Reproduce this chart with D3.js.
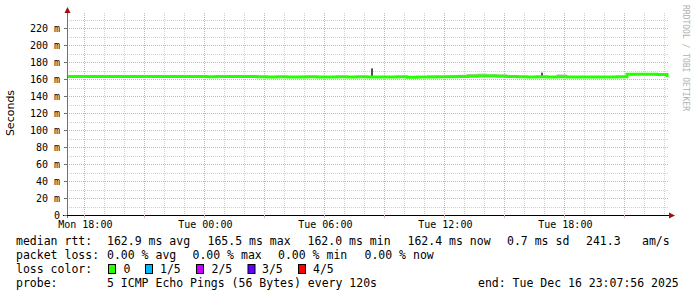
<!DOCTYPE html>
<html>
<head>
<meta charset="utf-8">
<script src="https://cdn.jsdelivr.net/npm/d3@7"></script>
<style>
  body { margin: 0; background: #fff; }
  svg { display: block; }
  text { font-family: "DejaVu Sans Mono", monospace; fill: #000; }
</style>
</head>
<body>
<svg id="chart"></svg>
<script>
// 30 h window, one bucket per 30 min
const startTime = new Date(2025, 11, 15, 17, 7, 56);
const endTime = new Date(2025, 11, 16, 23, 7, 56);

// median rtt per bucket (ms)
const medianRtt = [
  163.1, 163.1, 163.0, 163.1, 163.0, 163.0, 163.1, 163.0, 163.0, 163.0,
  163.0, 163.0, 163.0, 163.0, 162.8, 163.0, 163.0, 163.0, 163.0, 162.6,
  162.4, 162.6, 162.3, 162.5, 162.7, 162.4, 162.5, 162.6, 162.4, 162.8,
  162.5, 162.3, 162.4, 162.6, 162.2, 162.5, 162.4, 162.6, 162.8, 163.0,
  163.4, 163.6, 163.5, 163.3, 163.0, 162.6, 162.5, 162.8, 162.4, 162.6,
  162.5, 162.3, 162.4, 162.5, 162.4, 162.6, 165.5, 165.5, 165.5, 165.4
];
// highest ping per bucket (ms) -> top of the smoke
const smokeMax = [
  163.6, 163.5, 163.4, 163.5, 163.4, 163.5, 163.6, 163.4, 163.4, 163.5,
  163.4, 163.6, 163.4, 163.4, 163.3, 163.5, 163.4, 163.4, 163.5, 163.3,
  163.3, 163.4, 163.2, 163.9, 163.5, 163.3, 163.4, 163.5, 163.3, 163.6,
  163.3, 163.2, 163.4, 163.5, 163.2, 163.4, 164.3, 163.6, 164.5, 165.0,
  166.0, 166.4, 165.8, 165.5, 164.6, 163.7, 163.5, 163.6, 163.3, 165.5,
  163.5, 163.2, 163.4, 163.4, 163.3, 163.5, 166.2, 166.0, 166.1, 166.0
];
// single outlier pings
const spikeTimes = [new Date(2025, 11, 16, 8, 20, 0), new Date(2025, 11, 16, 16, 50, 0)];
const spikeValues = [172.5, 167.5];

const lossLabels = ['0', '1/5', '2/5', '3/5', '4/5'];
const lossColors = ['#26ff00', '#00b8ff', '#c800ff', '#6000ff', '#ff0000'];
const yTicks = d3.range(0, 240, 10);

const width = 697, height = 297;
const svg = d3.select('#chart').attr('width', width).attr('height', height);

const x = d3.scaleTime().domain([startTime, endTime]).range([67, 667]);
const y = d3.scaleLinear().domain([0, 236.5]).range([215, 14]);

const step = 30 * 60 * 1000;
const points = medianRtt.map((v, i) => ({
  t: new Date(+startTime + i * step),
  v: v,
  hi: smokeMax[i]
}));
points.push({ t: endTime, v: 162.4, hi: 162.9 });

const grid = svg.append('g');
// horizontal grid
grid.selectAll('.hgrid')
  .data(yTicks.filter(v => v > 0))
  .enter().append('line')
  .attr('x1', 67).attr('x2', 668)
  .attr('y1', d => Math.round(y(d)) + 0.5)
  .attr('y2', d => Math.round(y(d)) + 0.5)
  .attr('stroke', d => d % 20 === 0 ? '#e8a8a8' : '#d0d0d0')
  .attr('stroke-dasharray', '1,1');

// vertical grid, hourly, major every 3 h
const hours = d3.timeHour.every(1).range(startTime, endTime);
grid.selectAll('.vgrid')
  .data(hours)
  .enter().append('line')
  .attr('x1', d => Math.round(x(d)) + 0.5)
  .attr('x2', d => Math.round(x(d)) + 0.5)
  .attr('y1', 13).attr('y2', 215)
  .attr('stroke', d => d.getHours() % 3 === 0 ? '#e8a8a8' : '#d0d0d0')
  .attr('stroke-dasharray', '1,1');

// smoke
svg.append('g').selectAll('rect')
  .data(medianRtt.map((v, i) => points[i]))
  .enter().append('rect')
  .attr('x', d => x(d.t))
  .attr('width', d => x(new Date(+d.t + step)) - x(d.t))
  .attr('y', d => y(d.hi))
  .attr('height', d => y(d.v) - y(d.hi))
  .attr('fill', '#c4c4c4');

// outlier pings
svg.append('g').selectAll('rect')
  .data(spikeTimes)
  .enter().append('rect')
  .attr('x', d => Math.round(x(d)))
  .attr('width', 2)
  .attr('y', (d, i) => y(spikeValues[i]))
  .attr('height', (d, i) => y(163) - y(spikeValues[i]))
  .attr('fill', '#505050');

// median line
svg.append('path')
  .datum(points)
  .attr('fill', 'none')
  .attr('stroke', lossColors[0])
  .attr('stroke-width', 3)
  .attr('d', d3.line().x(d => x(d.t)).y(d => y(d.v)).curve(d3.curveStepAfter));

// axes
svg.append('line').attr('x1', 67.5).attr('x2', 67.5).attr('y1', 12).attr('y2', 218)
  .attr('stroke', '#707070');
svg.append('line').attr('x1', 63).attr('x2', 671).attr('y1', 215.5).attr('y2', 215.5)
  .attr('stroke', '#000');
svg.append('path').attr('d', 'M64.5,13 L67.5,7 L70.5,13 Z').attr('fill', '#a01010');
svg.append('path').attr('d', 'M669,212.5 L675,215.5 L669,218.5 Z').attr('fill', '#a01010');

// y ticks + labels
const yAxisG = svg.append('g');
yAxisG.selectAll('line')
  .data(yTicks.filter(v => v % 20 === 0))
  .enter().append('line')
  .attr('x1', 64).attr('x2', 67)
  .attr('y1', d => Math.round(y(d)) + 0.5).attr('y2', d => Math.round(y(d)) + 0.5)
  .attr('stroke', '#707070');
yAxisG.selectAll('text')
  .data(yTicks.filter(v => v % 20 === 0))
  .enter().append('text')
  .attr('x', 60)
  .attr('y', d => y(d) + 4)
  .attr('text-anchor', 'end')
  .style('font-size', '10px')
  .text(d => d === 0 ? '0' : d + ' m');

// x ticks + labels
const labelTimes = d3.timeHour.every(6).range(startTime, endTime);
const xAxisG = svg.append('g');
xAxisG.selectAll('line')
  .data(hours.filter(d => d.getHours() % 3 === 0))
  .enter().append('line')
  .attr('x1', d => Math.round(x(d)) + 0.5).attr('x2', d => Math.round(x(d)) + 0.5)
  .attr('y1', 215).attr('y2', 218)
  .attr('stroke', '#e8a8a8');
xAxisG.selectAll('text')
  .data(labelTimes)
  .enter().append('text')
  .attr('x', d => x(d) + 1)
  .attr('y', 228)
  .attr('text-anchor', 'middle')
  .style('font-size', '10px')
  .text(d3.timeFormat('%a %H:%M'));

// y title
svg.append('text')
  .attr('transform', 'translate(14,113) rotate(-90)')
  .attr('text-anchor', 'middle')
  .style('font-family', '"DejaVu Sans", sans-serif')
  .style('font-size', '11px')
  .text('Seconds');

// watermark
svg.append('text')
  .attr('transform', 'translate(683,5) rotate(90)')
  .style('font-size', '8px')
  .style('fill', '#b0b0b0')
  .text('RRDTOOL / TOBI OETIKER');

// legend
const legend = svg.append('g').style('font-size', '11.5px');
const legendRows = [
  [[16, 'median rtt:'], [107, '162.9 ms avg'], [207.5, '165.5 ms max'], [307.5, '162.0 ms min'],
   [407.5, '162.4 ms now'], [507, '0.7 ms sd'], [586, '241.3'], [642, 'am/s']],
  [[16, 'packet loss:'], [107, '0.00 % avg'], [192.5, '0.00 % max'], [278, '0.00 % min'], [364.5, '0.00 % now']],
  [[16, 'loss color:']],
  [[16, 'probe:'], [107, '5 ICMP Echo Pings (56 Bytes) every 120s'], [478, 'end: Tue Dec 16 23:07:56 2025']]
];
legendRows.forEach((row, r) => {
  row.forEach(([lx, txt]) => {
    legend.append('text').attr('x', lx).attr('y', 245 + r * 14).text(txt);
  });
});
const swatchX = [108, 145, 196, 247.5, 298];
const labelX = [123.5, 160, 211.5, 262, 313];
lossLabels.forEach((lab, i) => {
  legend.append('rect')
    .attr('x', swatchX[i] + 0.5).attr('y', 264.5)
    .attr('width', 7).attr('height', 9)
    .attr('fill', lossColors[i]).attr('stroke', '#000');
  legend.append('text').attr('x', labelX[i]).attr('y', 273).text(lab);
});
</script>
</body>
</html>
